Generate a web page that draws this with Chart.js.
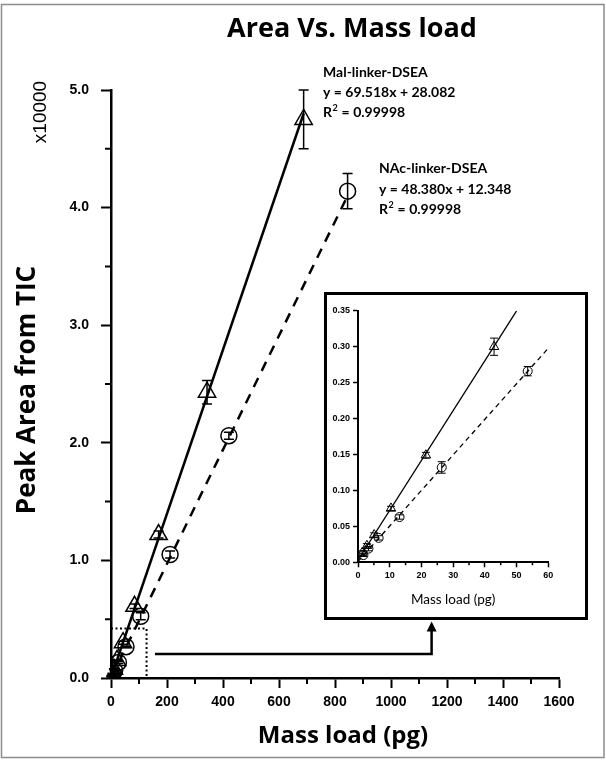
<!DOCTYPE html>
<html>
<head>
<meta charset="utf-8">
<script src="https://cdn.jsdelivr.net/npm/chart.js@4.4.0/dist/chart.umd.min.js"></script>
<style>
  html, body { margin: 0; padding: 0; background: #fff; }
  #wrap { position: relative; width: 606px; height: 762px; }
  #chart { position: absolute; left: 0; top: 0; }
  #inset { position: absolute; left: 324px; top: 292px; width: 258px; height: 322px; border: 3px solid #000; background: #fff; }
</style>
</head>
<body>
<div id="wrap">
  <canvas id="chart" width="606" height="762"></canvas>
  <div id="inset"><canvas id="insetChart" width="258" height="322"></canvas></div>
</div>
<script>
// values (mass in pg, area in x10000)
const malMass = [1.3, 2.8, 5.1, 10.4, 21.4, 42.9, 84, 170, 343, 688];
const malArea = [0.013, 0.023, 0.038, 0.075, 0.149, 0.300, 0.61, 1.22, 2.43, 4.75];
const malErr  = [0.003, 0.003, 0.003, 0.003, 0.004, 0.012, 0.02, 0.03, 0.10, 0.25];

const nacMass = [1.7, 3.3, 6.5, 13.1, 26.4, 53.5, 106, 211, 421, 845];
const nacArea = [0.010, 0.019, 0.034, 0.063, 0.132, 0.266, 0.525, 1.05, 2.06, 4.14];
const nacErr  = [0.002, 0.003, 0.003, 0.003, 0.008, 0.0065, 0.03, 0.03, 0.03, 0.15];

// regression lines as drawn
const malLineMass = [0, 688];
const malLineArea = [0.003, 4.80];
const nacLineMass = [0, 845];
const nacLineArea = [0.001, 4.10];
const malInsetLineMass = [0, 50];
const malInsetLineArea = [0.003, 0.350];
const nacInsetLineMass = [0, 60];
const nacInsetLineArea = [0.001, 0.298];

const mainXTicks = [0, 200, 400, 600, 800, 1000, 1200, 1400, 1600];
const mainYTicks = [0, 1, 2, 3, 4, 5];
const insetXTicks = [0, 10, 20, 30, 40, 50, 60];
const insetYTicks = [0, 0.05, 0.10, 0.15, 0.20, 0.25, 0.30, 0.35];

const toPoints = (xs, ys) => xs.map((x, i) => ({ x: x, y: ys[i] }));

Chart.defaults.font.family = '"Liberation Sans", Arial, sans-serif';
Chart.defaults.color = '#000';

const errorBars = {
  id: 'errorBars',
  afterDatasetsDraw(chart, args, opts) {
    const { ctx, scales: { x, y } } = chart;
    ctx.save();
    ctx.strokeStyle = '#000';
    ctx.lineWidth = opts.width;
    chart.data.datasets.forEach(ds => {
      if (!ds.errors) return;
      ds.data.forEach((p, j) => {
        if (p.x > x.max || p.y > y.max) return;
        const px = x.getPixelForValue(p.x);
        const top = y.getPixelForValue(p.y + ds.errors[j]);
        const bot = y.getPixelForValue(p.y - ds.errors[j]);
        ctx.beginPath();
        ctx.moveTo(px, top); ctx.lineTo(px, bot);
        ctx.moveTo(px - opts.cap, top); ctx.lineTo(px + opts.cap, top);
        ctx.moveTo(px - opts.cap, bot); ctx.lineTo(px + opts.cap, bot);
        ctx.stroke();
      });
    });
    ctx.restore();
  }
};

const minorTicks = {
  id: 'minorTicks',
  afterDraw(chart, args, opts) {
    const { ctx, chartArea, scales: { x, y } } = chart;
    ctx.save();
    ctx.strokeStyle = '#000';
    ctx.lineWidth = opts.width;
    ctx.beginPath();
    if (opts.xStep) {
      for (let v = opts.xStep; v < x.max; v += opts.xStep * 2) {
        const px = x.getPixelForValue(v);
        ctx.moveTo(px, chartArea.bottom);
        ctx.lineTo(px, chartArea.bottom + opts.len);
      }
    }
    if (opts.yStep) {
      for (let v = opts.yStep; v < y.max; v += opts.yStep * 2) {
        const py = y.getPixelForValue(v);
        ctx.moveTo(chartArea.left, py);
        ctx.lineTo(chartArea.left - opts.len, py);
      }
    }
    ctx.stroke();
    ctx.restore();
  }
};

function drawR2(ctx, x, y, value, size) {
  ctx.fillText('R', x, y);
  const w = ctx.measureText('R').width;
  const font = ctx.font;
  ctx.font = 'bold ' + Math.round(size * 0.62) + 'px Lato';
  ctx.fillText('2', x + w + 0.5, y - size * 0.42);
  const w2 = ctx.measureText('2').width;
  ctx.font = font;
  ctx.fillText(' = ' + value, x + w + w2 + 1, y);
}

const mainDecor = {
  id: 'mainDecor',
  beforeDraw(chart) {
    const ctx = chart.ctx;
    ctx.save();
    ctx.fillStyle = '#fff';
    ctx.fillRect(0, 0, chart.width, chart.height);
    ctx.strokeStyle = '#8c8c8c';
    ctx.lineWidth = 1.5;
    ctx.strokeRect(1.5, 4.5, 602.5, 753);
    ctx.restore();
  },
  afterDraw(chart) {
    const { ctx, scales: { x, y } } = chart;
    ctx.save();
    ctx.fillStyle = '#000';
    ctx.strokeStyle = '#000';

    // titles
    ctx.textAlign = 'center';
    ctx.textBaseline = 'alphabetic';
    ctx.font = 'bold 27px "Open Sans"';
    ctx.fillText('Area Vs. Mass load', 352, 37);

    ctx.textBaseline = 'middle';
    ctx.font = 'bold 24px "Open Sans"';
    ctx.fillText('Mass load (pg)', 343, 736);

    ctx.save();
    ctx.translate(28, 390);
    ctx.rotate(-Math.PI / 2);
    ctx.font = 'bold 26px "Open Sans"';
    ctx.fillText('Peak Area from TIC', 0, 0);
    ctx.restore();

    ctx.save();
    ctx.translate(41, 112);
    ctx.rotate(-Math.PI / 2);
    ctx.font = '19px "Liberation Sans"';
    ctx.fillText('x10000', 0, 0);
    ctx.restore();

    // regression labels
    ctx.textAlign = 'left';
    ctx.textBaseline = 'alphabetic';
    ctx.font = 'bold 14px Lato';
    ctx.fillText('Mal-linker-DSEA', 323, 77);
    ctx.fillText('y = 69.518x + 28.082', 323, 97);
    drawR2(ctx, 323, 117, '0.99998', 14);
    ctx.fillText('NAc-linker-DSEA', 379, 173);
    ctx.fillText('y = 48.380x + 12.348', 379, 194);
    drawR2(ctx, 379, 214, '0.99998', 14);

    // dotted zoom box
    ctx.lineWidth = 2;
    ctx.setLineDash([2, 2.5]);
    const bx0 = x.getPixelForValue(0), bx1 = x.getPixelForValue(127);
    const by0 = y.getPixelForValue(0), by1 = y.getPixelForValue(0.42);
    ctx.strokeRect(bx0, by1, bx1 - bx0, by0 - by1);
    ctx.setLineDash([]);

    // arrow to inset
    const ay = y.getPixelForValue(0.204);
    const ax0 = x.getPixelForValue(157), ax1 = x.getPixelForValue(1145);
    const tip = y.getPixelForValue(0.48);
    ctx.lineWidth = 2.5;
    ctx.beginPath();
    ctx.moveTo(ax0, ay);
    ctx.lineTo(ax1, ay);
    ctx.lineTo(ax1, tip + 8);
    ctx.stroke();
    ctx.beginPath();
    ctx.moveTo(ax1, tip);
    ctx.lineTo(ax1 - 5, tip + 10);
    ctx.lineTo(ax1 + 5, tip + 10);
    ctx.closePath();
    ctx.fill();
    ctx.restore();
  }
};

const axisCommon = (ticks, len, tw) => ({
  type: 'linear',
  afterBuildTicks: s => { s.ticks = ticks.map(v => ({ value: v })); },
  grid: { drawOnChartArea: false, drawTicks: true, tickLength: len, tickWidth: tw, tickColor: '#000' },
  border: { display: true, color: '#000' }
});

new Chart(document.getElementById('chart'), {
  type: 'scatter',
  data: {
    datasets: [
      {
        data: toPoints(malMass, malArea), errors: malErr,
        pointStyle: 'triangle', pointRadius: 10, pointBorderWidth: 1.5,
        borderColor: '#000', backgroundColor: 'rgba(0,0,0,0)'
      },
      {
        data: toPoints(nacMass, nacArea), errors: nacErr,
        pointStyle: 'circle', pointRadius: 8, pointBorderWidth: 1.5,
        borderColor: '#000', backgroundColor: 'rgba(0,0,0,0)'
      },
      {
        data: toPoints(malLineMass, malLineArea), showLine: true, pointRadius: 0,
        borderColor: '#000', borderWidth: 2.5
      },
      {
        data: toPoints(nacLineMass, nacLineArea), showLine: true, pointRadius: 0,
        borderColor: '#000', borderWidth: 2.5, borderDash: [10, 8]
      }
    ]
  },
  options: {
    responsive: false,
    animation: false,
    layout: { padding: { top: 90, right: 47, bottom: 0, left: 0 } },
    plugins: {
      legend: { display: false },
      tooltip: { enabled: false },
      errorBars: { width: 1.5, cap: 5 },
      minorTicks: { xStep: 100, yStep: 0.5, len: 6, width: 2 }
    },
    scales: {
      x: Object.assign(axisCommon(mainXTicks, 10, 2), {
        min: 0, max: 1600,
        border: { display: true, color: '#000', width: 2.5 },
        ticks: { padding: 6, font: { size: 14, weight: 'bold' }, maxRotation: 0, callback: v => String(v) },
        afterFit: s => { s.height = 84; }
      }),
      y: Object.assign(axisCommon(mainYTicks, 10, 2), {
        min: 0, max: 5,
        border: { display: true, color: '#000', width: 2.5 },
        ticks: { padding: 12, font: { size: 14, weight: 'bold' }, callback: v => v.toFixed(1) },
        afterFit: s => { s.width = 111; }
      })
    }
  },
  plugins: [mainDecor, errorBars, minorTicks]
});

new Chart(document.getElementById('insetChart'), {
  type: 'scatter',
  data: {
    datasets: [
      {
        data: toPoints(malMass, malArea), errors: malErr,
        pointStyle: 'triangle', pointRadius: 5.5, pointBorderWidth: 1,
        borderColor: '#000', backgroundColor: 'rgba(0,0,0,0)'
      },
      {
        data: toPoints(nacMass, nacArea), errors: nacErr,
        pointStyle: 'circle', pointRadius: 4.5, pointBorderWidth: 1,
        borderColor: '#000', backgroundColor: 'rgba(0,0,0,0)'
      },
      {
        data: toPoints(malInsetLineMass, malInsetLineArea), showLine: true, pointRadius: 0,
        borderColor: '#000', borderWidth: 1.3
      },
      {
        data: toPoints(nacInsetLineMass, nacInsetLineArea), showLine: true, pointRadius: 0,
        borderColor: '#000', borderWidth: 1.3, borderDash: [5, 4]
      }
    ]
  },
  options: {
    responsive: false,
    animation: false,
    layout: { padding: { top: 15.8, right: 36.7, bottom: 0, left: 0 } },
    plugins: {
      legend: { display: false },
      tooltip: { enabled: false },
      errorBars: { width: 1, cap: 4 },
      minorTicks: { xStep: 5, len: 3, width: 1.5 }
    },
    scales: {
      x: Object.assign(axisCommon(insetXTicks, 5, 1.5), {
        min: 0, max: 60,
        border: { display: true, color: '#000', width: 2 },
        ticks: { padding: 3, font: { size: 9, weight: 'bold' }, maxRotation: 0, callback: v => String(v) },
        title: { display: true, text: 'Mass load (pg)', font: { family: 'Lato', size: 13.5 }, padding: { top: 0, bottom: 9 } },
        afterFit: s => { s.height = 54.7; }
      }),
      y: Object.assign(axisCommon(insetYTicks, 5, 1.5), {
        min: 0, max: 0.35,
        border: { display: true, color: '#000', width: 2 },
        ticks: { padding: 3, font: { size: 9, weight: 'bold' }, callback: v => v.toFixed(2) },
        afterFit: s => { s.width = 31; }
      })
    }
  },
  plugins: [errorBars, minorTicks]
});
</script>
</body>
</html>
